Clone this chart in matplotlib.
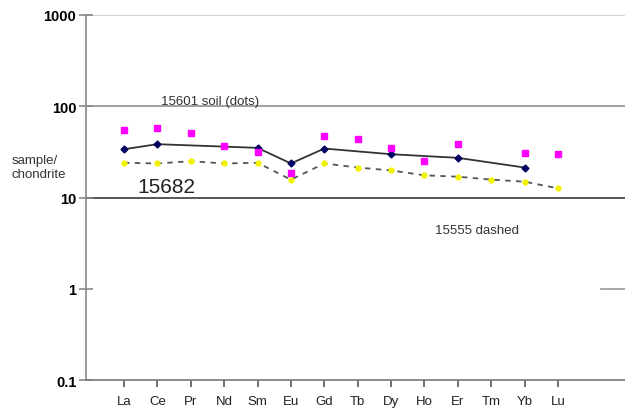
import numpy as np, matplotlib
matplotlib.use('Agg')
import matplotlib.pyplot as plt

plt.rcParams['font.family'] = ['Liberation Sans', 'DejaVu Sans']

elements = ['La', 'Ce', 'Pr', 'Nd', 'Sm', 'Eu', 'Gd', 'Tb', 'Dy', 'Ho', 'Er', 'Tm', 'Yb', 'Lu']
nan = np.nan
# 15682 (solid line, navy diamonds)
s15682 = [33.8, 38.4, nan, nan, 35.0, 23.6, 34.4, nan, 29.8, nan, 27.2, nan, 21.3, nan]
# 15601 soil (magenta squares only)
s15601 = [54.6, 58.4, 51.5, 36.5, 31.7, 18.6, 47.4, 43.5, 35.3, 25.2, 38.7, nan, 30.9, 29.8]
# 15555 (dashed, yellow dots)
s15555 = [24.0, 23.6, 25.0, 23.6, 24.0, 15.7, 23.6, 21.3, 19.8, 17.5, 16.9, 15.7, 14.9, 12.6]
yticks = [0.1, 1, 10, 100, 1000]
ylabels = ['0.1', '1', '10', '100', '1000']


def main():
    fig = plt.figure(figsize=(6.25, 4.10), dpi=100)
    ax = fig.add_axes([0.1376, 0.0707, 0.8624, 0.8903])
    x = np.arange(len(elements))

    a = np.array(s15682)
    m = ~np.isnan(a)
    ax.plot(x[m], a[m], color='#333333', lw=1.3, marker='D', ms=3.5,
            mfc='#000060', mec='#000060', zorder=4)

    b = np.array(s15601)
    mb = ~np.isnan(b)
    ax.plot(x[mb], b[mb], ls='none', marker='s', ms=5, mfc='#ff00ff', mec='#ff00ff', zorder=5)

    c = np.array(s15555)
    ax.plot(x, c, color='#555555', lw=1.3, ls=(0, (3, 3)), marker='o', ms=3.5,
            mfc='#f2f200', mec='#f2f200', zorder=3)

    ax.set_yscale('log')
    ax.set_ylim(0.1, 1000)
    ax.set_xlim(-1.138, 15.007)

    ax.axhline(1000, color='#c8c8c8', lw=1.2, zorder=1)
    ax.axhline(100, color='#909090', lw=1.2, zorder=1)
    ax.axhline(10, color='#555555', lw=1.4, zorder=1)
    ax.axhline(1, xmin=0.955, xmax=1.0, color='#999999', lw=1.2, zorder=1)

    for s in ['top', 'right']:
        ax.spines[s].set_visible(False)
    ax.spines['left'].set_color('#888888')
    ax.spines['left'].set_linewidth(1.2)
    ax.spines['bottom'].set_color('#777777')
    ax.spines['bottom'].set_linewidth(1.2)

    ax.set_yticks(yticks)
    ax.set_yticklabels(ylabels, fontweight='bold', fontsize=10.5)
    ax.yaxis.set_minor_locator(matplotlib.ticker.NullLocator())
    ax.tick_params(axis='y', direction='inout', length=10, color='#888888', width=1.2, pad=2)

    ax.set_xticks(x)
    ax.set_xticklabels(elements, fontsize=9.5, color='#222222')
    ax.tick_params(axis='x', direction='out', length=5, color='#555555', width=1.2, pad=6)

    ax.text(2.58, 97, '15601 soil (dots)', fontsize=9.5, color='#333333', ha='center', va='bottom')
    ax.text(9.32, 4.35, '15555 dashed', fontsize=9.5, color='#333333', ha='left', va='center')
    ax.text(0.39, 13.2, '15682', fontsize=15, color='#222222', ha='left', va='center')
    fig.text(12 / 625, 1 - 168 / 410, 'sample/\nchondrite', fontsize=9.5, color='#333333',
             ha='left', va='center', linespacing=1.2)

    fig.savefig('out.png', dpi=100)
    plt.close(fig)


if __name__ == '__main__':
    main()
